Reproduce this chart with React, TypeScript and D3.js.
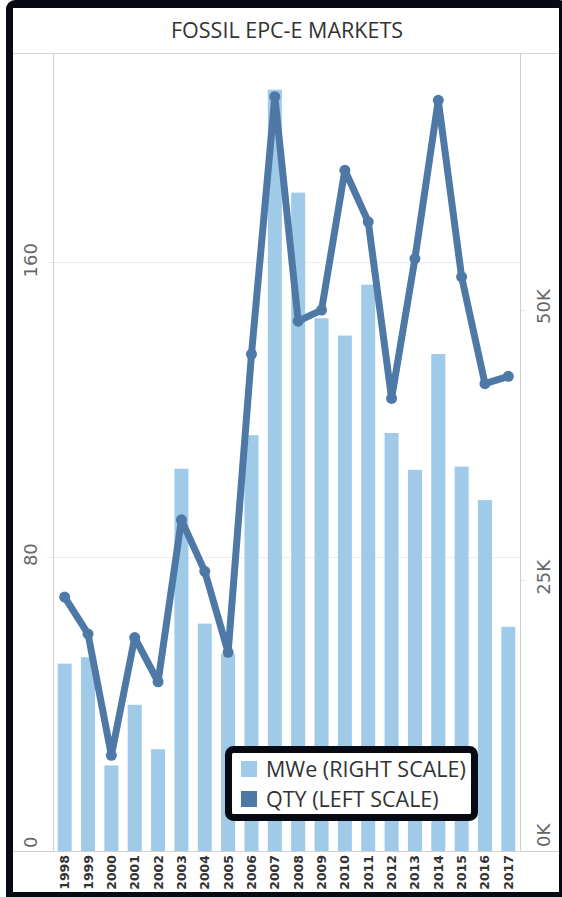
import React from 'react';
import * as d3 from 'd3';

// 数据：年份、MWe（千，右轴）、QTY（左轴）
const years = ['1998', '1999', '2000', '2001', '2002', '2003', '2004', '2005', '2006', '2007',
  '2008', '2009', '2010', '2011', '2012', '2013', '2014', '2015', '2016', '2017'];
const mweK = [17.3, 17.9, 7.9, 13.5, 9.4, 35.3, 21.0, 18.2, 38.4, 70.3,
  60.8, 49.2, 47.6, 52.3, 38.6, 35.2, 45.9, 35.5, 32.4, 20.7];
const qty = [69, 59, 26, 58, 46, 90, 76, 54, 135, 205,
  144, 147, 185, 171, 123, 161, 204, 156, 127, 129];
const leftTicks = [0, 80, 160];
const rightTicks = [0, 25, 50];
const legendItems = ['MWe (RIGHT SCALE)', 'QTY (LEFT SCALE)'];

const W = 562;
const H = 897;
const plot = { left: 53, right: 520, top: 54, bottom: 851 };
const BAR = '#a0cbe8';
const LINE = '#4e79a7';
const FRAME = '#070a12';

export default function App() {
  const x = d3.scaleBand<string>().domain(years).range([plot.left, plot.right])
    .paddingInner(0.4).paddingOuter(0.2);
  const yLeft = d3.scaleLinear().domain([0, 216.6]).range([plot.bottom, plot.top]);
  const yRight = d3.scaleLinear().domain([0, 73.6]).range([plot.bottom, plot.top]);
  const cx = (y: string) => (x(y) ?? 0) + x.bandwidth() / 2;

  const line = d3.line<number>()
    .x((_, i) => cx(years[i]))
    .y(d => yLeft(d));

  const num = 'DejaVu Sans, sans-serif';
  const sans = 'Open Sans, sans-serif';

  return (
    <>
      <style>{`body{margin:0}`}</style>
      <svg width={W} height={H} style={{ display: 'block' }}>
        {/* 外框 */}
        <rect x={6} y={0} width={W} height={H + 10} rx={9} fill={FRAME} />
        <rect x={13} y={8} width={546} height={884} fill="#fff" />

        {/* 标题 */}
        <text x={287} y={38} textAnchor="middle" fontFamily={sans} fontSize={21.5} fontWeight={500} fill="#333">
          FOSSIL EPC-E MARKETS
        </text>
        <line x1={13} x2={559} y1={53.5} y2={53.5} stroke="#d6d6d6" />

        {/* 网格线 */}
        {leftTicks.filter(t => t > 0).map(t => (
          <line key={`g${t}`} x1={47} x2={plot.right} y1={Math.round(yLeft(t)) + 0.5} y2={Math.round(yLeft(t)) + 0.5} stroke="#ececec" />
        ))}
        {rightTicks.filter(t => t > 0).map(t => (
          <line key={`r${t}`} x1={plot.right} x2={plot.right + 5} y1={Math.round(yRight(t)) + 0.5} y2={Math.round(yRight(t)) + 0.5} stroke="#e2e2e2" />
        ))}

        {/* 柱 */}
        {years.map((yr, i) => (
          <rect key={yr} x={x(yr)} y={yRight(mweK[i])} width={x.bandwidth()} height={plot.bottom - yRight(mweK[i])} fill={BAR} />
        ))}

        {/* 轴线 */}
        <line x1={plot.left + 0.5} x2={plot.left + 0.5} y1={54} y2={plot.bottom} stroke="#d0d0d0" />
        <line x1={plot.right + 0.5} x2={plot.right + 0.5} y1={54} y2={plot.bottom} stroke="#d0d0d0" />
        <line x1={13} x2={559} y1={plot.bottom + 0.5} y2={plot.bottom + 0.5} stroke="#d0d0d0" />

        {/* 折线 */}
        <path d={line(qty) || ''} fill="none" stroke={LINE} strokeWidth={7} strokeLinejoin="round" />
        {qty.map((v, i) => (
          <circle key={i} cx={cx(years[i])} cy={yLeft(v)} r={5.5} fill={LINE} />
        ))}

        {/* 左轴标签 */}
        {leftTicks.map(t => {
          const yy = t === 0 ? plot.bottom - 3 : yLeft(t) - 2;
          return (
            <text key={`lt${t}`} transform={`translate(37,${yy}) rotate(-90)`} textAnchor={t === 0 ? 'start' : 'middle'}
              fontFamily={num} fontSize={18} fill="#666">{t}</text>
          );
        })}
        {/* 右轴标签 */}
        {rightTicks.map(t => {
          const yy = t === 0 ? plot.bottom - 4 : yRight(t) - 3;
          return (
            <text key={`rt${t}`} transform={`translate(550,${yy}) rotate(-90)`} textAnchor={t === 0 ? 'start' : 'middle'}
              fontFamily={num} fontSize={18} fill="#666">{`${t}K`}</text>
          );
        })}

        {/* 年份 */}
        {years.map(yr => (
          <text key={`y${yr}`} transform={`translate(${cx(yr) + 4.5},855) rotate(-90)`} textAnchor="end"
            fontFamily={num} fontSize={12.5} fontWeight="bold" fill="#333">{yr}</text>
        ))}

        {/* 图例 */}
        <rect x={228.5} y={749.5} width={246} height={68} rx={5} fill="#fff" stroke={FRAME} strokeWidth={7} />
        {legendItems.map((s, i) => (
          <g key={s}>
            <rect x={241} y={761 + i * 30} width={16} height={16} fill={i === 0 ? BAR : LINE} />
            <text x={266} y={777 + i * 30} fontFamily={sans} fontSize={21.5} fontWeight={500} fill="#333">{s}</text>
          </g>
        ))}
      </svg>
    </>
  );
}
